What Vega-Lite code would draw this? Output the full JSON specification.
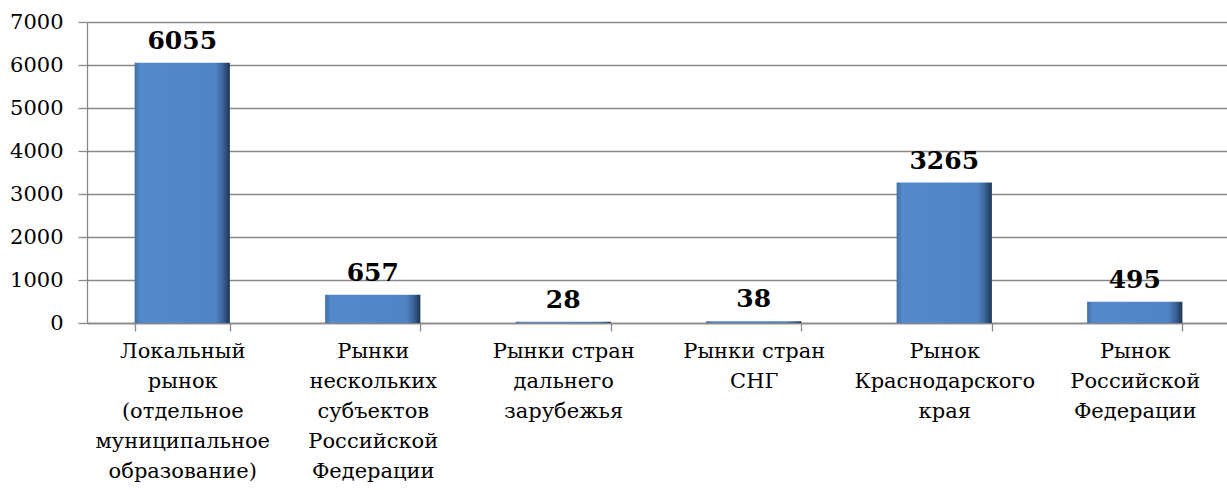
{
  "$schema": "https://vega.github.io/schema/vega-lite/v6.json",
  "width": 1143,
  "height": 301,
  "autosize": "none",
  "padding": {"left": 87, "top": 22, "right": 0, "bottom": 167},
  "background": "white",
  "config": {"view": {"stroke": null}, "font": "DejaVu Serif"},
  "data": {
    "values": [
      {"cat": "Локальный|рынок|(отдельное|муниципальное|образование)", "value": 6055},
      {"cat": "Рынки|нескольких|субъектов|Российской|Федерации", "value": 657},
      {"cat": "Рынки стран|дальнего|зарубежья", "value": 28},
      {"cat": "Рынки стран|СНГ", "value": 38},
      {"cat": "Рынок|Краснодарского|края", "value": 3265},
      {"cat": "Рынок|Российской|Федерации", "value": 495}
    ]
  },
  "encoding": {
    "x": {
      "field": "cat", "type": "nominal", "sort": null,
      "scale": {"paddingInner": 0.5, "paddingOuter": 0.25},
      "axis": {
        "title": null, "labelAngle": 0, "labelExpr": "split(datum.label, '|')",
        "labelFontSize": 21, "labelLineHeight": 30, "labelColor": "#000", "labelLimit": 0,
        "labelPadding": 9, "tickBand": "extent", "tickSize": 8,
        "tickColor": "#888", "domainColor": "#888", "domainWidth": 1.3, "tickWidth": 1.3,
        "labelBaseline": "top", "labelFont": "DejaVu Serif"
      }
    },
    "y": {
      "field": "value", "type": "quantitative",
      "scale": {"domain": [0, 7000], "nice": false},
      "axis": {
        "title": null, "values": [0, 1000, 2000, 3000, 4000, 5000, 6000, 7000], "format": "d",
        "labelFontSize": 21, "labelColor": "#000", "labelPadding": 15,
        "tickSize": 9, "tickColor": "#888", "tickWidth": 1.3,
        "domainColor": "#888", "domainWidth": 1.3,
        "grid": true, "gridColor": "#888", "gridWidth": 1.3,
        "labelFont": "DejaVu Serif"
      }
    }
  },
  "layer": [
    {
      "mark": {
        "type": "bar",
        "color": {
          "gradient": "linear", "x1": 0, "y1": 0, "x2": 1, "y2": 0,
          "stops": [
            {"offset": 0, "color": "#3f6ea8"},
            {"offset": 0.06, "color": "#5489cb"},
            {"offset": 0.85, "color": "#5184c4"},
            {"offset": 0.93, "color": "#3a6294"},
            {"offset": 1, "color": "#1e3552"}
          ]
        }
      }
    },
    {
      "mark": {"type": "text", "baseline": "alphabetic", "dy": -14, "fontSize": 25, "fontWeight": "bold", "font": "DejaVu Serif", "color": "#000"},
      "encoding": {"text": {"field": "value", "type": "quantitative", "format": "d"}}
    }
  ]
}
